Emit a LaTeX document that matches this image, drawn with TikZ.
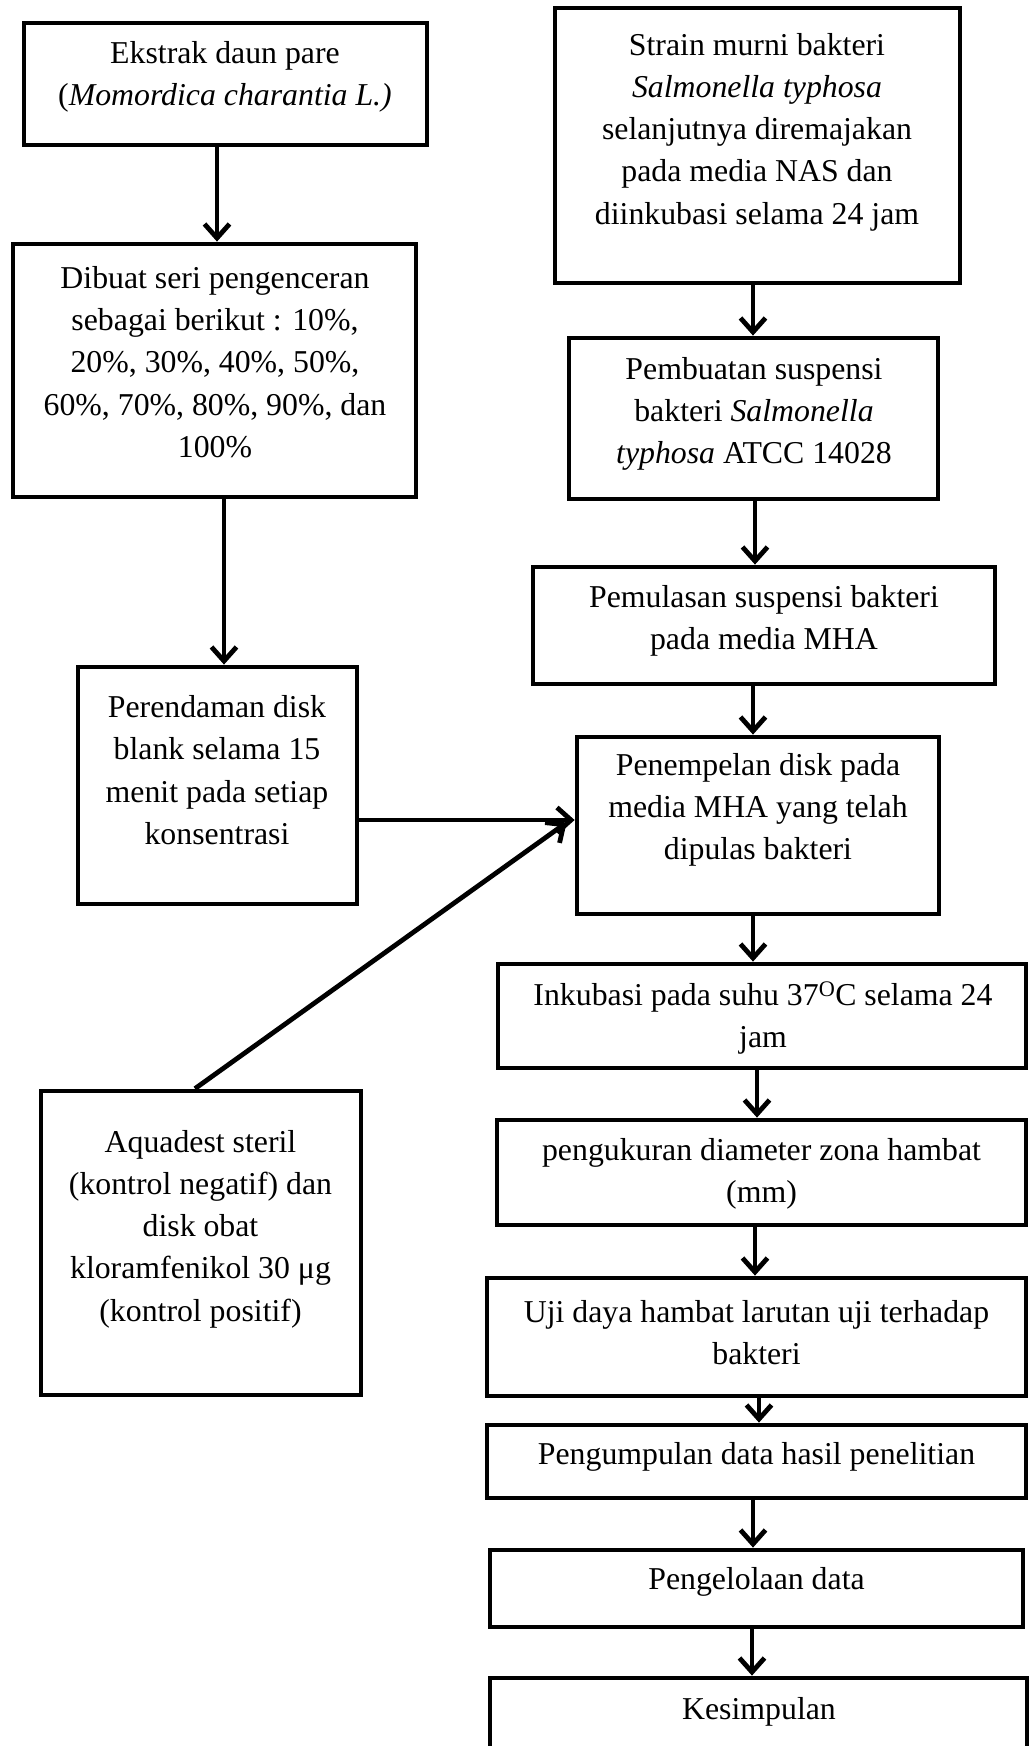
\documentclass[tikz,border=0pt]{standalone}
\usepackage{fontspec}
\setmainfont{Liberation Serif}
\usetikzlibrary{arrows.meta}
\tikzset{
  box/.style={draw, line width=4.8pt, inner sep=0pt, rectangle},
  txt/.style={align=center, inner sep=0pt, font=\fontsize{31.8}{42.3}\selectfont},
  arr/.style={line width=4.8pt, -{Straight Barb[length=14pt,width=25pt]}}
}
\begin{document}
\begin{tikzpicture}[x=1pt,y=-1pt]
\path[use as bounding box, fill=white] (0,0) rectangle (1029,1746);
% left column boxes
\node[box, minimum width=403pt, minimum height=122pt] (b1) at (225.5,84) {};
\node[box, minimum width=403pt, minimum height=253pt] (b2) at (214.5,370.5) {};
\node[box, minimum width=279pt, minimum height=237pt] (b3) at (217.5,785.5) {};
\node[box, minimum width=320pt, minimum height=304pt] (b4) at (201,1243) {};
% right column boxes
\node[box, minimum width=405pt, minimum height=275pt] (r1) at (757.5,145.5) {};
\node[box, minimum width=369pt, minimum height=161pt] (r2) at (753.5,418.5) {};
\node[box, minimum width=462pt, minimum height=117pt] (r3) at (764,625.5) {};
\node[box, minimum width=362pt, minimum height=177pt] (r4) at (758,825.5) {};
\node[box, minimum width=528pt, minimum height=104pt] (r5) at (762,1016) {};
\node[box, minimum width=529pt, minimum height=105pt] (r6) at (761.5,1172.5) {};
\node[box, minimum width=539pt, minimum height=118pt] (r7) at (756.5,1337) {};
\node[box, minimum width=539pt, minimum height=73pt] (r8) at (756.5,1461.5) {};
\node[box, minimum width=533pt, minimum height=77pt] (r9) at (756.5,1588.5) {};
\node[box, minimum width=537pt, minimum height=102pt] (r10) at (758.5,1729) {};
% texts
\node[txt] (tb1) at (225,77) {Ekstrak daun pare\\(\textit{Momordica charantia L.)}};
\node[txt] (tb2) at (215,362) {Dibuat seri pengenceran\\sebagai berikut : 10\%,\\20\%, 30\%, 40\%, 50\%,\\60\%, 70\%, 80\%, 90\%, dan\\100\%};
\node[txt] (tb3) at (217,770) {Perendaman disk\\blank selama 15\\menit pada setiap\\konsentrasi};
\node[txt] (tb4) at (200.5,1229) {Aquadest steril\\(kontrol negatif) dan\\disk obat\\kloramfenikol 30 μg\\(kontrol positif)};
\node[txt] (tr1) at (757,132) {Strain murni bakteri\\\textit{Salmonella typhosa}\\selanjutnya diremajakan\\pada media NAS dan\\diinkubasi selama 24 jam};
\node[txt] (tr2) at (754,414) {Pembuatan suspensi\\bakteri \textit{Salmonella}\\\textit{typhosa} ATCC 14028};
\node[txt] (tr3) at (764,621) {Pemulasan suspensi bakteri\\pada media MHA};
\node[txt] (tr4) at (758,810) {Penempelan disk pada\\media MHA yang telah\\dipulas bakteri};
\node[txt] (tr5) at (763,1018) {Inkubasi pada suhu 37\textsuperscript{O}C selama 24\\jam};
\node[txt] (tr6) at (761.5,1174) {pengukuran diameter zona hambat\\(mm)};
\node[txt] (tr7) at (756.5,1332.5) {Uji daya hambat larutan uji terhadap\\bakteri};
\node[txt] (tr8) at (756.5,1457) {Pengumpulan data hasil penelitian};
\node[txt] (tr9) at (756.5,1582) {Pengelolaan data};
\node[txt] (tr10) at (759,1712) {Kesimpulan};
% connectors
\draw[arr] ([xshift=-8.5pt]b1.south) -- ([xshift=-8.5pt]b1.south |- b2.north);
\draw[arr] ([xshift=9.5pt]b2.south) -- ([xshift=9.5pt]b2.south |- b3.north);
\draw[arr] ([yshift=-34.5pt]b3.east) -- ([yshift=-34.5pt]b3.east -| r4.west);
\draw[arr] ([xshift=-6pt]b4.north) -- ([xshift=-8pt,yshift=3pt]r4.west);
\draw[arr] ([xshift=-4.5pt]r1.south) -- ([xshift=-4.5pt]r1.south |- r2.north);
\draw[arr] ([xshift=1.5pt]r2.south) -- ([xshift=1.5pt]r2.south |- r3.north);
\draw[arr] ([xshift=-11pt]r3.south) -- ([xshift=-11pt]r3.south |- r4.north);
\draw[arr] ([xshift=-5pt]r4.south) -- ([xshift=-5pt]r4.south |- r5.north);
\draw[arr] ([xshift=-5pt]r5.south) -- ([xshift=-5pt]r5.south |- r6.north);
\draw[arr] ([xshift=-6.5pt]r6.south) -- ([xshift=-6.5pt]r6.south |- r7.north);
\draw[arr] ([xshift=2.5pt]r7.south) -- ([xshift=2.5pt]r7.south |- r8.north);
\draw[arr] ([xshift=-3.5pt]r8.south) -- ([xshift=-3.5pt]r8.south |- r9.north);
\draw[arr] ([xshift=-4.5pt]r9.south) -- ([xshift=-4.5pt]r9.south |- r10.north);
\end{tikzpicture}
\end{document}
